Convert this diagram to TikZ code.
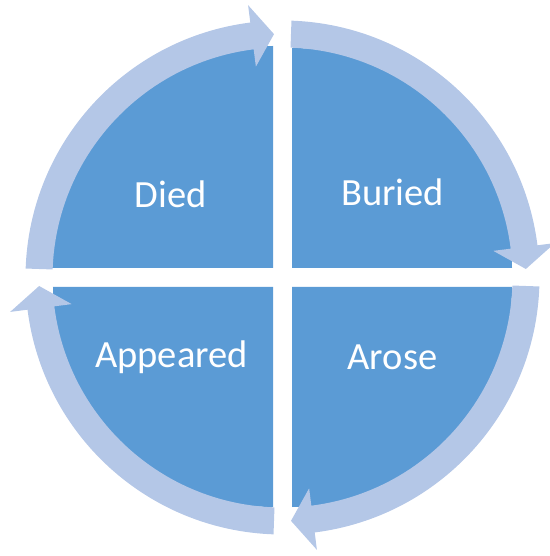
\documentclass[tikz,border=0pt]{standalone}
\usepackage{fontspec}
\setmainfont{Carlito}
\usetikzlibrary{positioning}
\definecolor{Segment}{HTML}{5B9BD5}
\definecolor{Ring}{HTML}{B4C7E7}
\tikzset{
  segment/.style={fill=Segment, draw=none},
  ringarrow/.style={fill=Ring, draw=none},
  label/.style={text=white, font=\fontsize{38.5}{44}\selectfont, inner sep=0pt}
}
\begin{document}
\begin{tikzpicture}[x=1pt,y=1pt]
        \useasboundingbox (-282.5,-278.5) rectangle (266.5,277.5);
        % quadrants
        \fill[segment] (-9.5,9.5) -- ++(0,222) arc[start angle=90, end angle=180, radius=222] -- cycle;
        \fill[segment] (9.5,9.5) -- ++(0,220) arc[start angle=90, end angle=0, radius=220] -- cycle;
        \fill[segment] (9.5,-9.5) -- ++(220,0) arc[start angle=0, end angle=-90, radius=220] -- cycle;
        \fill[segment] (-9.5,-9.5) -- ++(0,-220) arc[start angle=-90, end angle=-180, radius=220] -- cycle;
        % circular arrows, clockwise
        \foreach \a in {180,90,0,-90}{
          \fill[ringarrow] (\a-2:257) arc[start angle=\a-2, end angle=\a-82.8, radius=257]
            -- (\a-82.8:274.5) -- (\a-88:243.5) -- (\a-82.8:212.5) -- (\a-82.8:230)
            arc[start angle=\a-82.8, end angle=\a-2, radius=230] -- cycle;
        }
        \node[label] (died) at (-112,83) {Died};
        \node[label] (buried) at (110,85) {Buried};
        \node[label] (appeared) at (-111,-80) {Appeared};
        \node[label] (arose) at (110,-80) {Arose};
      \end{tikzpicture}
\end{document}
